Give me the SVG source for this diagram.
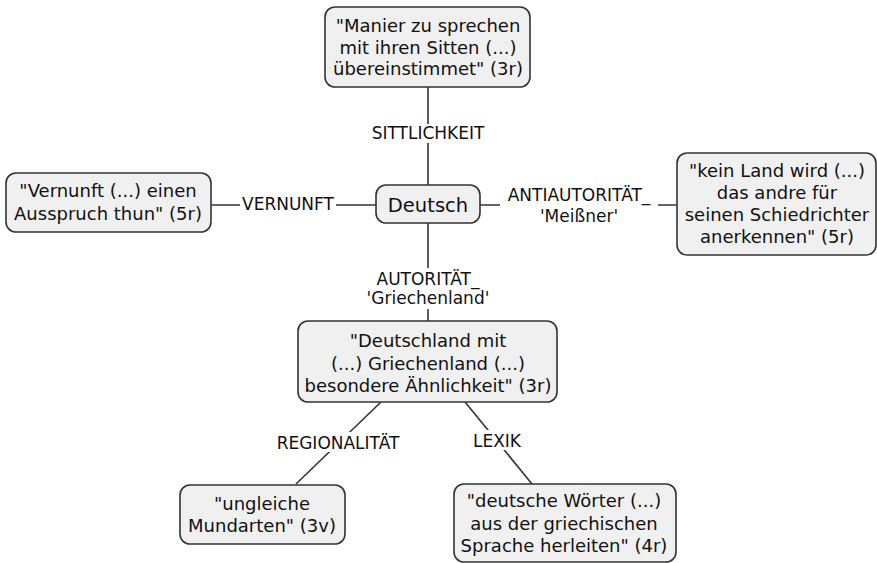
<svg xmlns="http://www.w3.org/2000/svg" width="877" height="563" viewBox="0 0 877 563">
<style>
.node rect{fill:#f0f0f0;stroke:#333;stroke-width:1.6}
text{font-family:"DejaVu Sans",Verdana,sans-serif;font-size:18px;fill:#111;text-anchor:middle}
.lbl{font-size:17px}
.conn line{stroke:#333;stroke-width:1.6}
.bg{fill:#fff}
</style>
<rect width="877" height="563" fill="#fff"/>
<g id="connectors" class="conn">
<line x1="428" y1="87" x2="428" y2="185"/>
<line x1="211" y1="205" x2="376" y2="205"/>
<line x1="480" y1="205" x2="677" y2="205"/>
<line x1="428" y1="223" x2="428" y2="321"/>
<line x1="381" y1="402" x2="296" y2="484"/>
<line x1="465" y1="402" x2="532" y2="484"/>
<rect class="bg" x="366" y="124" width="124" height="19"/>
<text class="lbl" x="428" y="139">SITTLICHKEIT</text>
<rect class="bg" x="240" y="195" width="96" height="19"/>
<text class="lbl" x="288" y="210">VERNUNFT</text>
<rect class="bg" x="500" y="186" width="158" height="40"/>
<text class="lbl" x="579" y="201">ANTIAUTORITÄT_</text>
<text class="lbl" x="579" y="222">'Meißner'</text>
<rect class="bg" x="366" y="268" width="124" height="41"/>
<text class="lbl" x="428" y="285">AUTORITÄT_</text>
<text class="lbl" x="428" y="304">'Griechenland'</text>
<rect class="bg" x="272" y="432" width="132" height="20"/>
<text class="lbl" x="338" y="449">REGIONALITÄT</text>
<rect class="bg" x="471" y="430" width="53" height="20"/>
<text class="lbl" x="497" y="447">LEXIK</text>
</g>
<g id="n-top" class="node">
<rect x="325" y="7" width="205" height="80" rx="10"/>
<text x="428" y="32">"Manier zu sprechen</text>
<text x="428" y="54">mit ihren Sitten (...)</text>
<text x="428" y="75">übereinstimmet" (3r)</text>
</g>
<g id="n-deutsch" class="node">
<rect x="376" y="185" width="104" height="38" rx="10"/>
<text x="428" y="212" style="font-size:19.5px">Deutsch</text>
</g>
<g id="n-left" class="node">
<rect x="6" y="173" width="205" height="59" rx="10"/>
<text x="108" y="197">"Vernunft (...) einen</text>
<text x="108" y="220">Ausspruch thun" (5r)</text>
</g>
<g id="n-right" class="node">
<rect x="677" y="153" width="199" height="102" rx="10"/>
<text x="777" y="177">"kein Land wird (...)</text>
<text x="777" y="199">das andre für</text>
<text x="777" y="221">seinen Schiedrichter</text>
<text x="777" y="243">anerkennen" (5r)</text>
</g>
<g id="n-mid" class="node">
<rect x="298" y="321" width="259" height="81" rx="10"/>
<text x="428" y="347">"Deutschland mit</text>
<text x="428" y="370">(...) Griechenland (...)</text>
<text x="428" y="392">besondere Ähnlichkeit" (3r)</text>
</g>
<g id="n-bl" class="node">
<rect x="180" y="485" width="165" height="59" rx="10"/>
<text x="262" y="510">"ungleiche</text>
<text x="262" y="532">Mundarten" (3v)</text>
</g>
<g id="n-br" class="node">
<rect x="454" y="484" width="222" height="78" rx="10"/>
<text x="564" y="507">"deutsche Wörter (...)</text>
<text x="564" y="530">aus der griechischen</text>
<text x="564" y="552">Sprache herleiten" (4r)</text>
</g>
</svg>
